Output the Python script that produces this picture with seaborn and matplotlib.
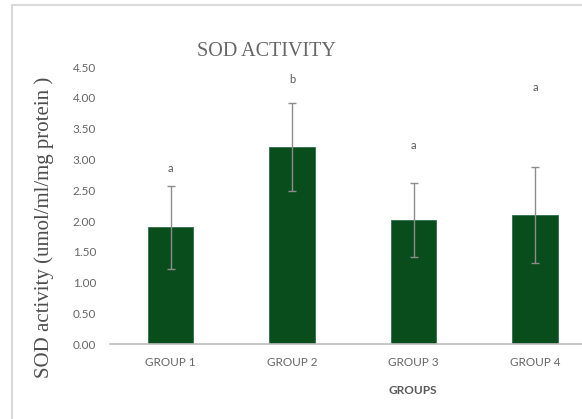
import matplotlib
matplotlib.use("Agg")
import matplotlib.pyplot as plt
import seaborn as sns
import pandas as pd
from matplotlib.patches import Rectangle

groups = ["GROUP 1", "GROUP 2", "GROUP 3", "GROUP 4"]
means = [1.90, 3.20, 2.01, 2.10]
errors = [0.67, 0.71, 0.60, 0.78]
letters = ["a", "b", "a", "a"]
letter_y = [2.86, 4.29, 3.22, 4.17]
yticks = [0.0, 0.5, 1.0, 1.5, 2.0, 2.5, 3.0, 3.5, 4.0, 4.5]

df = pd.DataFrame({"group": groups, "mean": means})

sns.set_style("white")
plt.rcParams["font.family"] = ["Lato", "DejaVu Sans"]

W, H = 582, 419
fig = plt.figure(figsize=(W / 100, H / 100), dpi=100)
x0, x1 = 110, 595.7
ybot, ytop = 344.3, 67.0
ax = fig.add_axes([x0 / W, 1 - ybot / H, (x1 - x0) / W, (ybot - ytop) / H])

sns.barplot(data=df, x="group", y="mean", color="#0a4d1c", width=0.375,
            edgecolor="#2f6f50", linewidth=0.6, ax=ax, saturation=1)
ax.errorbar(range(len(groups)), means, yerr=errors, fmt="none",
            ecolor="#8c8c8c", elinewidth=1.0, capsize=3, capthick=1.0, zorder=3)

for i, (t, ly) in enumerate(zip(letters, letter_y)):
    ax.text(i, ly, t, ha="center", va="center", fontsize=8, color="#595959")

ax.set_ylim(0, 4.5)
ax.set_xlim(-0.5, 3.5)
ax.set_yticks(yticks)
ax.set_yticklabels([f"{v:.2f}" for v in yticks])
ax.tick_params(axis="y", labelsize=8.5, labelcolor="#666666", length=0, pad=10)
ax.tick_params(axis="x", labelsize=8.5, labelcolor="#666666", length=0, pad=9)
for s in ["top", "right", "left"]:
    ax.spines[s].set_visible(False)
ax.spines["bottom"].set_color("#bfbfbf")
ax.spines["bottom"].set_linewidth(1.2)

ax.set_xlabel("GROUPS", fontsize=8.5, fontweight="bold", color="#595959")
ax.xaxis.set_label_coords((413 - x0) / (x1 - x0), -(390.7 - ybot) / (ybot - ytop), transform=ax.transAxes)
ax.xaxis.label.set_va("center")
ax.set_ylabel("SOD activity (umol/ml/mg protein )", fontsize=15,
              family=["Liberation Serif"], color="#4d4d4d")
ax.yaxis.set_label_coords((44 - x0) / (x1 - x0), (ybot - (72 + 382) / 2) / (ybot - ytop), transform=ax.transAxes)
ax.yaxis.label.set_va("center")

fig.text(266 / W, 1 - 51.7 / H, "SOD ACTIVITY", ha="center", va="center",
         fontsize=14.5, family=["Liberation Serif"], color="#666666")

fig.patches.append(Rectangle((12 / W, -0.05), 1.1, 1 - 5 / H + 0.05,
                             transform=fig.transFigure, fill=False,
                             edgecolor="#d9d9d9", linewidth=1.5))

fig.savefig("out.png", dpi=100)
